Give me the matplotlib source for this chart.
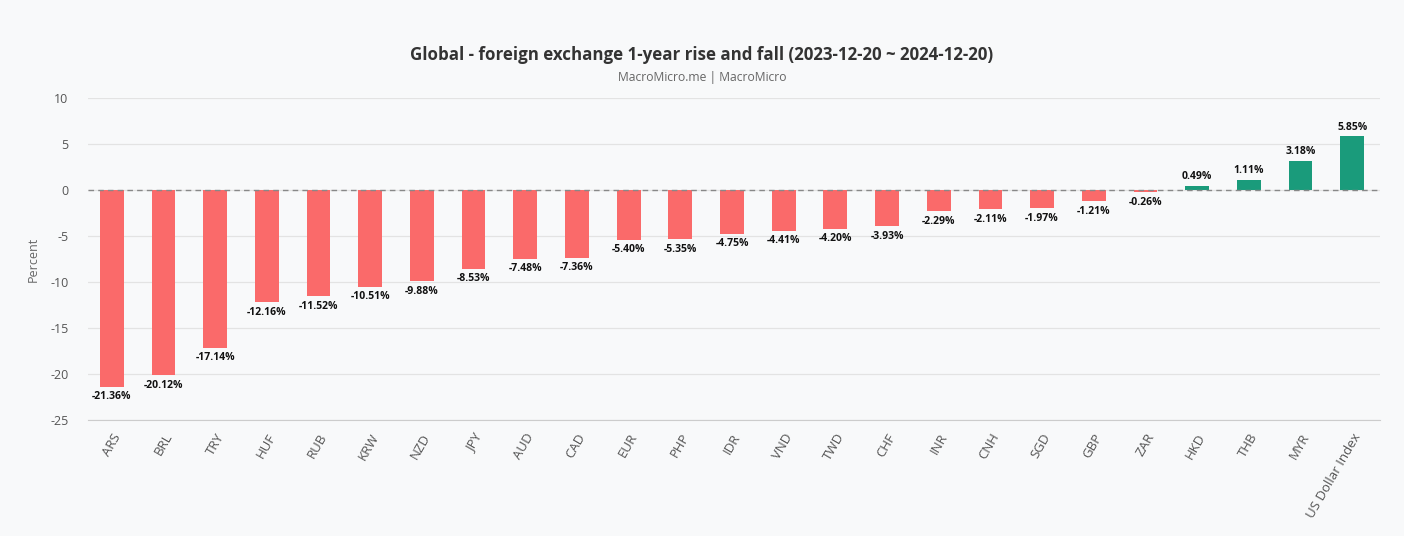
import matplotlib
matplotlib.use("Agg")
import matplotlib.pyplot as plt
import numpy as np

plt.rcParams['font.family'] = ['Open Sans', 'DejaVu Sans']
plt.rcParams['axes.unicode_minus'] = False

# data
currencies = ['ARS', 'BRL', 'TRY', 'HUF', 'RUB', 'KRW', 'NZD', 'JPY', 'AUD', 'CAD',
              'EUR', 'PHP', 'IDR', 'VND', 'TWD', 'CHF', 'INR', 'CNH', 'SGD', 'GBP',
              'ZAR', 'HKD', 'THB', 'MYR', 'US Dollar Index']
changes = [-21.36, -20.12, -17.14, -12.16, -11.52, -10.51, -9.88, -8.53, -7.48, -7.36,
           -5.40, -5.35, -4.75, -4.41, -4.20, -3.93, -2.29, -2.11, -1.97, -1.21,
           -0.26, 0.49, 1.11, 3.18, 5.85]
yticks = [10, 5, 0, -5, -10, -15, -20, -25]

bg = '#f8f9fa'
red = '#fa6a6a'
green = '#1a9b7b'

fig = plt.figure(figsize=(14.04, 5.36), dpi=100, facecolor=bg)
ax = fig.add_axes([0.0627, 0.2164, 0.9203, 0.6006], facecolor=bg)

x = np.arange(len(currencies))
cols = [green if v > 0 else red for v in changes]
ax.bar(x, changes, width=0.46, color=cols, zorder=3)

for xi, v in zip(x, changes):
    if v >= 0:
        ax.text(xi, v + 0.4, '%.2f%%' % v, ha='center', va='bottom', fontsize=7.5,
                fontweight='bold', color='#111111', zorder=4)
    else:
        ax.text(xi, v - 0.5, '%.2f%%' % v, ha='center', va='top', fontsize=7.5,
                fontweight='bold', color='#111111', zorder=4)

ax.axhline(0, color='#888888', linestyle=(0, (4, 3)), linewidth=1, zorder=4)

ax.set_ylim(-25, 10)
ax.set_xlim(-0.46, len(currencies) - 0.46)
ax.set_yticks(yticks)
ax.yaxis.grid(True, color='#e3e3e3', linewidth=0.9, zorder=0)
for s in ['top', 'right', 'left']:
    ax.spines[s].set_visible(False)
ax.spines['bottom'].set_color('#cccccc')
ax.set_xticks(x)
ax.set_xticklabels(currencies, rotation=60, ha='right', rotation_mode='anchor')
ax.tick_params(axis='y', length=0, labelsize=9, labelcolor='#555555', pad=14)
ax.tick_params(axis='x', length=0, labelsize=9.5, labelcolor='#555555', pad=8)

ax.set_ylabel('Percent', fontsize=9, color='#666666')
ax.yaxis.set_label_coords(-0.037, 0.5)

fig.text(0.5, 0.898, 'Global - foreign exchange 1-year rise and fall (2023-12-20 ~ 2024-12-20)',
         ha='center', va='center', fontsize=12.2, fontweight='bold', color='#333333')
fig.text(0.5, 0.856, 'MacroMicro.me | MacroMicro', ha='center', va='center',
         fontsize=8.7, color='#666666')

fig.savefig('out.png', dpi=100, facecolor=bg)
